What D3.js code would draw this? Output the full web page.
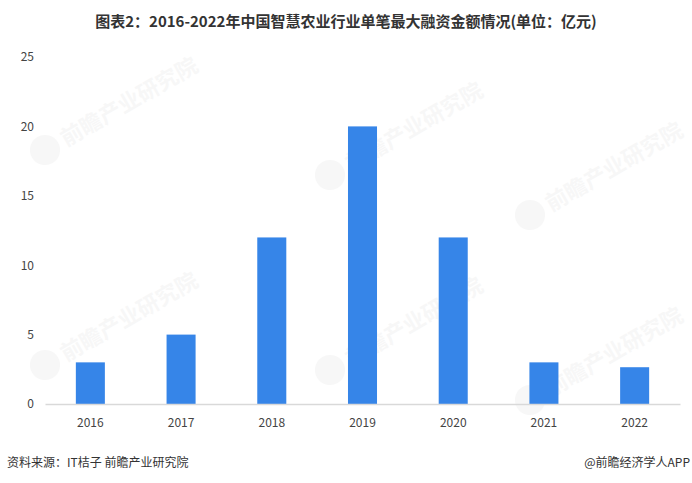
<!DOCTYPE html>
<html><head><meta charset="utf-8">
<script src="https://cdn.jsdelivr.net/npm/d3@7/dist/d3.min.js"></script>
<style>body{margin:0;background:#fff;}svg{display:block;}</style>
</head><body>
<script>
const years = ["2016","2017","2018","2019","2020","2021","2022"];
const values = [3, 5, 12, 20, 12, 3, 2.65];
const yTicks = [0, 5, 10, 15, 20, 25];

const W = 692, H = 483;
const svg = d3.select("body").append("svg").attr("width", W).attr("height", H);
const font = "'Microsoft YaHei','Noto Sans CJK SC','Liberation Sans',sans-serif";

// faint watermarks
const wm = [[45,150],[330,175],[530,215],[45,365],[330,370],[530,400]];
wm.forEach(([x,y])=>{
  const g = svg.append("g").attr("transform",`translate(${x},${y}) rotate(-30)`).attr("opacity",0.045);
  g.append("circle").attr("cx",0).attr("cy",0).attr("r",15).attr("fill","#555");
  g.append("text").attr("x",20).attr("y",8).attr("font-family",font).attr("font-size",22).attr("font-weight","bold").attr("fill","#555").text("前瞻产业研究院");
});

const x = d3.scaleBand().domain(years).range([45, 680]).paddingInner(0.68).paddingOuter(0.34);
const y = d3.scaleLinear().domain([0, 25]).range([404, 57]);

svg.append("g").selectAll("rect").data(values).join("rect")
  .attr("x", (d,i)=>x(years[i])).attr("width", x.bandwidth())
  .attr("y", d=>y(d)).attr("height", d=>y(0)-y(d)).attr("fill", "#3685e8");

const xa = svg.append("g").attr("transform", `translate(0,${y(0)})`)
  .call(d3.axisBottom(x).tickSize(0).tickPadding(14));
xa.select(".domain").attr("stroke","#d9d9d9").attr("stroke-width",1.5);
xa.selectAll("text").attr("font-family",font).attr("font-size",12).attr("fill","#444");

const ya = svg.append("g").attr("transform","translate(34,0)")
  .call(d3.axisLeft(y).tickValues(yTicks).tickSize(0).tickPadding(0));
ya.select(".domain").remove();
ya.selectAll("text").attr("font-family",font).attr("font-size",12).attr("fill","#444");

svg.append("text").attr("x", 346).attr("y", 27).attr("text-anchor","middle")
  .attr("font-family",font).attr("font-size",15).attr("font-weight","bold").attr("fill","#333")
  .text("图表2：2016-2022年中国智慧农业行业单笔最大融资金额情况(单位：亿元)");

svg.append("text").attr("x", 7).attr("y", 467).attr("font-family",font).attr("font-size",12).attr("fill","#333")
  .text("资料来源：IT桔子 前瞻产业研究院");
svg.append("text").attr("x", 690).attr("y", 467).attr("text-anchor","end").attr("font-family",font).attr("font-size",12).attr("fill","#333")
  .text("@前瞻经济学人APP");
</script>
</body></html>
